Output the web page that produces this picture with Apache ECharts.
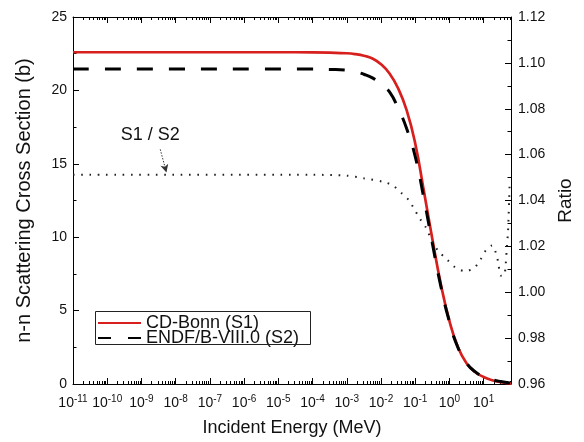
<!DOCTYPE html>
<html><head><meta charset="utf-8">
<script src="https://cdn.jsdelivr.net/npm/echarts@6/dist/echarts.min.js"></script>
<style>html,body{margin:0;padding:0;background:#fff}#c{width:584px;height:442px}</style>
</head><body><div id="c"></div>
<script>
// x values are log10(E / MeV)
const logEnergyS1 = [-11, -5, -4, -3.5, -3, -2.75, -2.5, -2.25, -2.0, -1.75, -1.5, -1.25, -1.0, -0.75, -0.5, -0.25, 0.0, 0.25, 0.5, 0.75, 1.0, 1.25, 1.5, 1.8];
const crossS1 = [22.6, 22.6, 22.59, 22.57, 22.53, 22.47, 22.36, 22.17, 21.78, 21.15, 20.15, 18.65, 16.4, 13.2, 9.9, 6.8, 4.3, 2.5, 1.42, 0.82, 0.48, 0.26, 0.12, 0.02];
const logEnergyS2 = [-11, -4, -3.5, -3, -2.75, -2.5, -2.25, -2.0, -1.75, -1.5, -1.25, -1.0, -0.75, -0.5, -0.25, 0.0, 0.25, 0.5, 0.75, 1.0, 1.25, 1.5, 1.8];
const crossS2 = [21.45, 21.45, 21.43, 21.38, 21.28, 21.1, 20.85, 20.45, 19.9, 18.8, 17.4, 15.5, 12.7, 9.6, 6.65, 4.25, 2.48, 1.43, 0.84, 0.5, 0.3, 0.17, 0.06];
const logEnergyRatio = [-11, -4, -3, -2.5, -1.9, -1.63, -1.41, -1.19, -1.04, -0.87, -0.70, -0.46, -0.26, -0.06, 0.18, 0.47, 0.73, 0.91, 1.08, 1.25, 1.38, 1.44, 1.49, 1.59, 1.64, 1.68, 1.71, 1.73, 1.745, 1.76];
const ratioS1S2 = [1.0512, 1.0512, 1.0508, 1.0497, 1.048, 1.0463, 1.0434, 1.0402, 1.0366, 1.0322, 1.0286, 1.0209, 1.0170, 1.0141, 1.0107, 1.0092, 1.0107, 1.0143, 1.0186, 1.0204, 1.016, 1.0117, 1.0073, 1.0072, 1.0113, 1.0199, 1.0258, 1.033, 1.040, 1.047];
const xTickExponents = [-11, -10, -9, -8, -7, -6, -5, -4, -3, -2, -1, 0, 1];
const xMin = -11, xMax = 1.8;
const legendNames = ['CD-Bonn (S1)', 'ENDF/B-VIII.0 (S2)'];

const FONT = 'Liberation Sans, Arial, sans-serif';
const minorX = [];
xTickExponents.forEach(n => { for (let k = 2; k <= 9; k++) { const v = n + Math.log10(k); if (v <= xMax) minorX.push(v); } });

function zip(a, b) { return a.map((v, i) => [v, b[i]]); }

const baseX = {
  type: 'value', min: xMin, max: xMax, interval: 1,
  splitLine: { show: false },
  axisLine: { show: true, onZero: false, lineStyle: { color: '#000', width: 1 } },
};
const chart = echarts.init(document.getElementById('c'), null, { renderer: 'canvas' });
chart.setOption({
  animation: false,
  backgroundColor: '#fff',
  grid: { left: 73, right: 73, top: 17, bottom: 58 },
  graphic: [{
    type: 'rect', left: 93, top: 309, silent: true, z: 10,
    shape: { width: 215, height: 33 },
    style: { fill: 'none', stroke: '#222', lineWidth: 1 }
  }],
  xAxis: [
    Object.assign({}, baseX, {
      position: 'bottom',
      name: 'Incident Energy (MeV)', nameLocation: 'middle', nameGap: 35,
      nameTextStyle: { fontFamily: FONT, fontSize: 18, color: '#111' },
      axisTick: { show: true, inside: true, length: 6, customValues: xTickExponents, lineStyle: { color: '#000' } },
      axisLabel: {
        show: true, margin: 10, customValues: xTickExponents, color: '#111',
        formatter: v => '{b|10}{s|' + Math.round(v) + '}',
        rich: {
          b: { fontFamily: FONT, fontSize: 14, lineHeight: 18, color: '#111' },
          s: { fontFamily: FONT, fontSize: 10, lineHeight: 9.5, verticalAlign: 'top', color: '#111' }
        }
      }
    }),
    Object.assign({}, baseX, {
      position: 'bottom', axisLine: { show: false },
      axisTick: { show: true, inside: true, length: 3, customValues: minorX, lineStyle: { color: '#000' } },
      axisLabel: { show: false }
    }),
    Object.assign({}, baseX, {
      position: 'top',
      axisTick: { show: true, inside: true, length: 6, customValues: xTickExponents, lineStyle: { color: '#000' } },
      axisLabel: { show: false }
    }),
    Object.assign({}, baseX, {
      position: 'top', axisLine: { show: false },
      axisTick: { show: true, inside: true, length: 3, customValues: minorX, lineStyle: { color: '#000' } },
      axisLabel: { show: false }
    })
  ],
  yAxis: [
    {
      type: 'value', position: 'left', min: 0, max: 25, interval: 5,
      name: 'n-n Scattering Cross Section (b)', nameLocation: 'middle', nameGap: 39, nameRotate: 90,
      nameTextStyle: { fontFamily: FONT, fontSize: 20, color: '#111' },
      splitLine: { show: false },
      axisLine: { show: true, onZero: false, lineStyle: { color: '#000', width: 1 } },
      axisTick: { show: true, inside: true, length: 6, lineStyle: { color: '#000' } },
      minorTick: { show: true, splitNumber: 2, length: 3.5, lineStyle: { color: '#000' } },
      axisLabel: { fontFamily: FONT, fontSize: 14, color: '#111', margin: 6 }
    },
    {
      type: 'value', position: 'right', min: 0.96, max: 1.12, interval: 0.02,
      name: 'Ratio', nameLocation: 'middle', nameGap: 44, nameRotate: 90,
      nameTextStyle: { fontFamily: FONT, fontSize: 19, color: '#111' },
      splitLine: { show: false },
      axisLine: { show: true, onZero: false, lineStyle: { color: '#000', width: 1 } },
      axisTick: { show: true, inside: true, length: 6, lineStyle: { color: '#000' } },
      minorTick: { show: true, splitNumber: 2, length: 3.5, lineStyle: { color: '#000' } },
      axisLabel: { fontFamily: FONT, fontSize: 14, color: '#111', margin: 7, formatter: v => v.toFixed(2) }
    }
  ],
  legend: {
    orient: 'vertical', left: 97, top: 314,
    data: [
      { name: legendNames[0] },
      { name: legendNames[1], lineStyle: { type: [13, 17] } }
    ],
    itemWidth: 43, itemHeight: 12, itemGap: -3,
    padding: 0,
    itemStyle: { opacity: 0 },
    textStyle: { fontFamily: FONT, fontSize: 18, color: '#111' }
  },
  series: [
    {
      name: legendNames[0], type: 'line', xAxisIndex: 0, yAxisIndex: 0,
      data: zip(logEnergyS1, crossS1), showSymbol: false, symbol: 'none',
      smooth: 0.5,
      lineStyle: { color: '#d7201e', width: 2.7 }, itemStyle: { color: '#d7201e' }, z: 2
    },
    {
      name: legendNames[1], type: 'line', xAxisIndex: 0, yAxisIndex: 0,
      data: zip(logEnergyS2, crossS2), showSymbol: false, symbol: 'none',
      smooth: 0.5,
      lineStyle: { color: '#000', width: 3, type: [16, 16] }, itemStyle: { color: '#000' }, z: 3
    },
    {
      name: 'S1 / S2', type: 'line', xAxisIndex: 0, yAxisIndex: 1,
      data: zip(logEnergyRatio, ratioS1S2), showSymbol: false, symbol: 'none',
      smooth: 0.3,
      lineStyle: { color: '#222', width: 2, type: [1.6, 6.7] }, itemStyle: { color: '#222' }, z: 3,
      markLine: {
        silent: true, symbol: ['none', 'arrow'], symbolSize: [6, 8],
        label: { show: false },
        lineStyle: { color: '#333', width: 1, type: [1.5, 1.5] },
        data: [[{ coord: [-8.45, 1.0623] }, { coord: [-8.27, 1.0522] }]]
      },
      markPoint: {
        silent: true,
        data: [{ coord: [-8.74, 1.0686], symbol: 'circle', symbolSize: 0,
          label: { show: true, position: 'inside', formatter: 'S1 / S2', fontFamily: FONT, fontSize: 18, color: '#111' } }]
      }
    }
  ]
});
</script></body></html>
